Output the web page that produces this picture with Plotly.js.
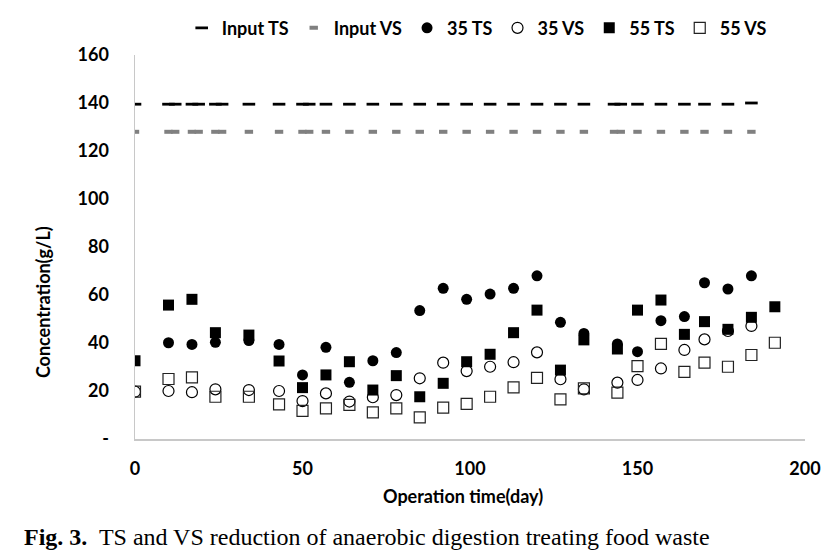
<!DOCTYPE html>
<html>
<head>
<meta charset="utf-8">
<script src="https://cdn.plot.ly/plotly-3.0.1.min.js"></script>
<style>html,body{margin:0;padding:0;background:#fff;}#chart{width:840px;height:560px;}</style>
</head>
<body>
<div id="chart"></div>
<script>
// Input (feed) series
const inputDays = [0,10,12,17,19,24,26,34,43,50,52,57,64,71,78,85,92,99,106,113,120,127,134,143,145,150,157,164,170,177,184];
const inputTS   = [139.5,139.5,139.5,139.5,139.5,139.5,139.5,139.5,139.5,139.5,139.5,139.5,139.5,139.5,139.5,139.5,139.5,139.5,139.5,139.5,139.5,139.5,139.5,139.5,139.5,139.5,139.5,139.5,139.5,139.5,140];
const inputVS   = [128,128,128,128,128,128,128,128,128,128,128,128,128,128,128,128,128,128,128,128,128,128,128,128,128,128,128,128,128,128,128];

// 35 degC reactor
const days35TS = [10,17,24,34,43,50,57,64,71,78,85,92,99,106,113,120,127,134,144,150,157,164,170,177,184];
const ts35     = [40.1,39.4,40.3,41.0,39.4,26.7,38.2,23.6,32.6,36.0,53.5,62.8,58.2,60.4,62.8,68.0,48.6,44.0,39.6,36.4,49.3,51.0,65.1,62.5,68.0];
const days35VS = [0,10,17,24,34,43,50,57,64,71,78,85,92,99,106,113,120,127,134,144,150,157,164,170,177,184];
const vs35     = [19.7,20.0,19.5,20.7,20.4,20.0,15.8,19.0,15.6,17.4,18.3,25.3,31.8,28.3,30.1,32.0,36.1,24.9,20.7,23.5,24.6,29.4,37.1,41.5,45.0,47.1];

// 55 degC reactor
const days55 = [0,10,17,24,34,43,50,57,64,71,78,85,92,99,106,113,120,127,134,144,150,157,164,170,177,184,191];
const ts55   = [32.6,55.8,58.2,44.3,43.3,32.5,21.4,26.7,32.2,20.4,26.4,17.6,23.2,32.2,35.3,44.3,53.7,28.7,41.3,37.5,53.7,57.9,43.6,48.9,45.7,50.7,55.1];
const vs55   = [19.7,25.0,25.7,17.6,17.6,14.4,11.7,12.8,14.2,11.1,12.8,9.0,13.1,14.6,17.6,21.5,25.5,16.5,21.1,19.3,30.4,39.6,28.0,31.8,30.1,35.0,40.1];

// Axis ticks
const yTickVals = [0,20,40,60,80,100,120,140,160];
const yTickText = ['-','20','40','60','80','100','120','140','160'];
const xTickVals = [0,50,100,150,200];

const FONT = 'Lato, "Open Sans", sans-serif';

const traces = [
  {x: inputDays, y: inputTS, name: 'Input TS', type: 'scatter', mode: 'markers',
   marker: {symbol: 'line-ew', size: 9, line: {color: '#000000', width: 2.8}}},
  {x: inputDays, y: inputVS, name: 'Input VS', type: 'scatter', mode: 'markers',
   marker: {symbol: 'line-ew', size: 6, line: {color: '#808080', width: 4}}},
  {x: days35TS, y: ts35, name: '35 TS', type: 'scatter', mode: 'markers',
   marker: {symbol: 'circle', size: 11, color: '#000000'}},
  {x: days35VS, y: vs35, name: '35 VS', type: 'scatter', mode: 'markers',
   marker: {symbol: 'circle-open', size: 11, color: '#000000', line: {color: '#000000', width: 1.2}}},
  {x: days55, y: ts55, name: '55 TS', type: 'scatter', mode: 'markers',
   marker: {symbol: 'square', size: 11, color: '#000000'}},
  {x: days55, y: vs55, name: '55 VS', type: 'scatter', mode: 'markers',
   marker: {symbol: 'square-open', size: 11, color: '#222222', line: {color: '#222222', width: 1.2}}}
];

const layout = {
  width: 840, height: 560,
  margin: {l: 135, r: 35, t: 55, b: 121, pad: 0, autoexpand: false},
  paper_bgcolor: '#ffffff', plot_bgcolor: '#ffffff',
  font: {family: FONT, color: '#000000'},
  showlegend: true,
  legend: {orientation: 'h', x: 0.51, xanchor: 'center', y: 1.07, yanchor: 'middle',
           font: {family: FONT, size: 18, weight: 700, color: '#000000'},
           itemwidth: 30, tracegroupgap: 0, bgcolor: 'rgba(0,0,0,0)'},
  xaxis: {range: [0, 200], tickvals: xTickVals, showgrid: false, zeroline: false,
          showline: true, linecolor: '#c8c8c8', linewidth: 1.5, ticks: '',
          ticklabelstandoff: 13, automargin: false,
          tickfont: {family: FONT, size: 18, weight: 700, color: '#000000'}},
  yaxis: {range: [0, 160], tickvals: yTickVals, ticktext: yTickText, showgrid: false, zeroline: false,
          showline: true, linecolor: '#c8c8c8', linewidth: 1.5, ticks: '',
          ticklabelstandoff: 21, automargin: false,
          tickfont: {family: FONT, size: 18, weight: 700, color: '#000000'}},
  annotations: [
    {text: 'Concentration(g/L)', xref: 'paper', yref: 'paper', x: -0.137, y: 0.357,
     xanchor: 'center', yanchor: 'middle', textangle: -90, showarrow: false,
     font: {family: FONT, size: 18, weight: 700, color: '#000000'}},
    {text: 'Operation time(day)', xref: 'paper', yref: 'paper', x: 0.49, y: -0.148,
     xanchor: 'center', yanchor: 'middle', showarrow: false,
     font: {family: FONT, size: 18, weight: 700, color: '#000000'}},
    {text: '<b>Fig. 3.</b>  TS and VS reduction of anaerobic digestion treating food waste',
     xref: 'paper', yref: 'paper', x: -0.169, y: -0.255, xanchor: 'left', yanchor: 'middle',
     showarrow: false, font: {family: '"Liberation Serif", "Times New Roman", serif', size: 24, color: '#000000'}}
  ]
};

Plotly.newPlot('chart', traces, layout, {displayModeBar: false, staticPlot: true});
</script>
</body>
</html>
